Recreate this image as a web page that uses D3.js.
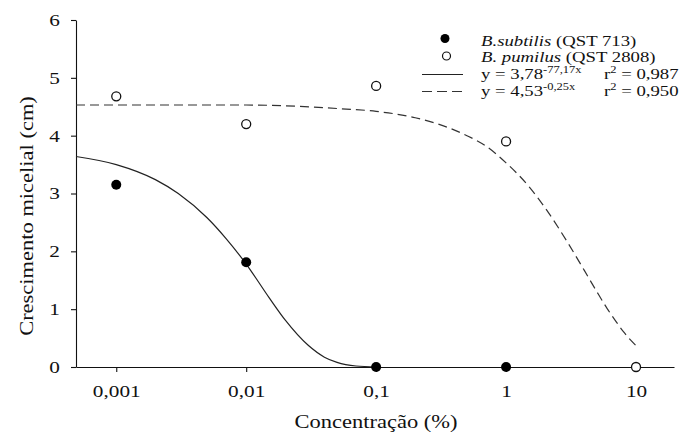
<!DOCTYPE html>
<html>
<head>
<meta charset="utf-8">
<script src="https://cdn.jsdelivr.net/npm/d3@7"></script>
<style>
  body { margin: 0; background: #fff; }
  text { font-family: "Liberation Serif", "Times New Roman", serif; fill: #111; }
</style>
</head>
<body>
<script>
// concentrations (%) and the observed means
const concentracoes = [0.001, 0.01, 0.1, 1, 10];
const tickLabels = ['0,001', '0,01', '0,1', '1', '10'];
const yTicks = [0, 1, 2, 3, 4, 5, 6];
const subtilis = [3.15, 1.81, 0, 0, null];
const pumilus = [4.68, 4.20, 4.86, 3.90, 0];

// fitted curves
const curvaSubtilisX = [0.00049, 0.001, 0.002, 0.003, 0.005, 0.007, 0.01, 0.015, 0.02, 0.03, 0.04, 0.05, 0.07, 0.1];
const curvaSubtilisY = [3.64, 3.50, 3.24, 3.00, 2.58, 2.22, 1.78, 1.20, 0.81, 0.375, 0.17, 0.08, 0.017, 0];
const curvaPumilusX = [0.00049, 0.001, 0.01, 0.05, 0.1, 0.2, 0.3, 0.5, 0.7, 1, 1.5, 2, 3, 4, 5, 6, 7, 8, 10];
const curvaPumilusY = [4.53, 4.53, 4.53, 4.47, 4.42, 4.31, 4.20, 4.00, 3.82, 3.53, 3.12, 2.75, 2.14, 1.67, 1.30, 1.01, 0.79, 0.61, 0.37];

const width = 690, height = 433;
const serif = '"Liberation Serif", "Times New Roman", serif';
const stretch = 'scale(1.25,1)'; // the original lettering is wide

const svg = d3.select('body').append('svg')
    .attr('width', width)
    .attr('height', height)
    .attr('font-family', serif);

svg.append('rect').attr('width', width).attr('height', height).attr('fill', '#fff');

const x = d3.scaleLog()
    .domain([0.00049, 19.6])
    .range([76, 674]);

const y = d3.scaleLinear()
    .domain([0, 6])
    .range([367, 20]);

// axes
const gx = svg.append('g')
    .attr('transform', 'translate(0,' + y(0) + ')')
    .call(d3.axisBottom(x).tickValues(concentracoes).tickFormat((d, i) => tickLabels[i]).tickSize(5).tickSizeOuter(0))
    .attr('font-family', serif);
gx.selectAll('text')
    .attr('y', 0).attr('dy', 0)
    .attr('transform', 'translate(0,30) ' + stretch)
    .style('font-size', '17px');

const gy = svg.append('g')
    .attr('transform', 'translate(' + x.range()[0] + ',0)')
    .call(d3.axisLeft(y).tickValues(yTicks).tickFormat(d => String(d)).tickSize(5).tickSizeOuter(0))
    .attr('font-family', serif);
gy.selectAll('text')
    .attr('x', 0)
    .attr('transform', 'translate(-16,0) ' + stretch)
    .style('font-size', '17px');

svg.selectAll('.domain, .tick line').attr('stroke', '#111').attr('stroke-width', 1.1);

// titles
svg.append('text')
    .attr('transform', 'translate(376,428) ' + stretch)
    .attr('text-anchor', 'middle')
    .style('font-size', '18px')
    .text('Concentração (%)');

svg.append('text')
    .attr('transform', 'translate(33,216) rotate(-90) ' + stretch)
    .attr('text-anchor', 'middle')
    .style('font-size', '18px')
    .text('Crescimento micelial (cm)');

// curves
const line = d3.line()
    .x(d => x(d[0]))
    .y(d => y(d[1]))
    .curve(d3.curveMonotoneX);

svg.append('path')
    .datum(curvaSubtilisX.map((v, i) => [v, curvaSubtilisY[i]]))
    .attr('d', line)
    .attr('fill', 'none')
    .attr('stroke', '#222')
    .attr('stroke-width', 1.2);

svg.append('path')
    .datum(curvaPumilusX.map((v, i) => [v, curvaPumilusY[i]]))
    .attr('d', line)
    .attr('fill', 'none')
    .attr('stroke', '#333')
    .attr('stroke-width', 1.2)
    .attr('stroke-dasharray', '9,5');

// points
svg.selectAll('.pumilus')
    .data(concentracoes.map((c, i) => [c, pumilus[i]]).filter(d => d[1] != null))
    .join('circle')
    .attr('class', 'pumilus')
    .attr('cx', d => x(d[0]))
    .attr('cy', d => y(d[1]))
    .attr('r', 4.5)
    .attr('fill', '#fff')
    .attr('stroke', '#111')
    .attr('stroke-width', 1.3);

svg.selectAll('.subtilis')
    .data(concentracoes.map((c, i) => [c, subtilis[i]]).filter(d => d[1] != null))
    .join('circle')
    .attr('class', 'subtilis')
    .attr('cx', d => x(d[0]))
    .attr('cy', d => y(d[1]))
    .attr('r', 5)
    .attr('fill', '#000');

// legend
const legend = svg.append('g');

legend.append('circle').attr('cx', 445).attr('cy', 38.5).attr('r', 4.5).attr('fill', '#000');
legend.append('circle').attr('cx', 446.5).attr('cy', 56).attr('r', 4)
    .attr('fill', '#fff').attr('stroke', '#111').attr('stroke-width', 1.2);
legend.append('line').attr('x1', 422).attr('x2', 463).attr('y1', 74.5).attr('y2', 74.5)
    .attr('stroke', '#222').attr('stroke-width', 1.2);
legend.append('line').attr('x1', 422).attr('x2', 463).attr('y1', 91.5).attr('y2', 91.5)
    .attr('stroke', '#333').attr('stroke-width', 1.2).attr('stroke-dasharray', '10,5');

function legendText(px, py) {
    return legend.append('text')
        .attr('transform', 'translate(' + px + ',' + py + ') ' + stretch)
        .style('font-size', '15px');
}

let t = legendText(481, 45.5);
t.append('tspan').style('font-style', 'italic').text('B.subtilis');
t.append('tspan').text(' (QST 713)');

t = legendText(481, 62);
t.append('tspan').style('font-style', 'italic').text('B. pumilus');
t.append('tspan').text(' (QST 2808)');

t = legendText(481, 79);
t.append('tspan').text('y = 3,78');
t.append('tspan').attr('dy', -6).style('font-size', '10px').text('-77,17x');

t = legendText(481, 96);
t.append('tspan').text('y = 4,53');
t.append('tspan').attr('dy', -6).style('font-size', '10px').text('-0,25x');

t = legendText(604, 79);
t.append('tspan').text('r');
t.append('tspan').attr('dy', -6).style('font-size', '10px').text('2');
t.append('tspan').attr('dy', 6).text(' = 0,987');

t = legendText(604, 96);
t.append('tspan').text('r');
t.append('tspan').attr('dy', -6).style('font-size', '10px').text('2');
t.append('tspan').attr('dy', 6).text(' = 0,950');
</script>
</body>
</html>
